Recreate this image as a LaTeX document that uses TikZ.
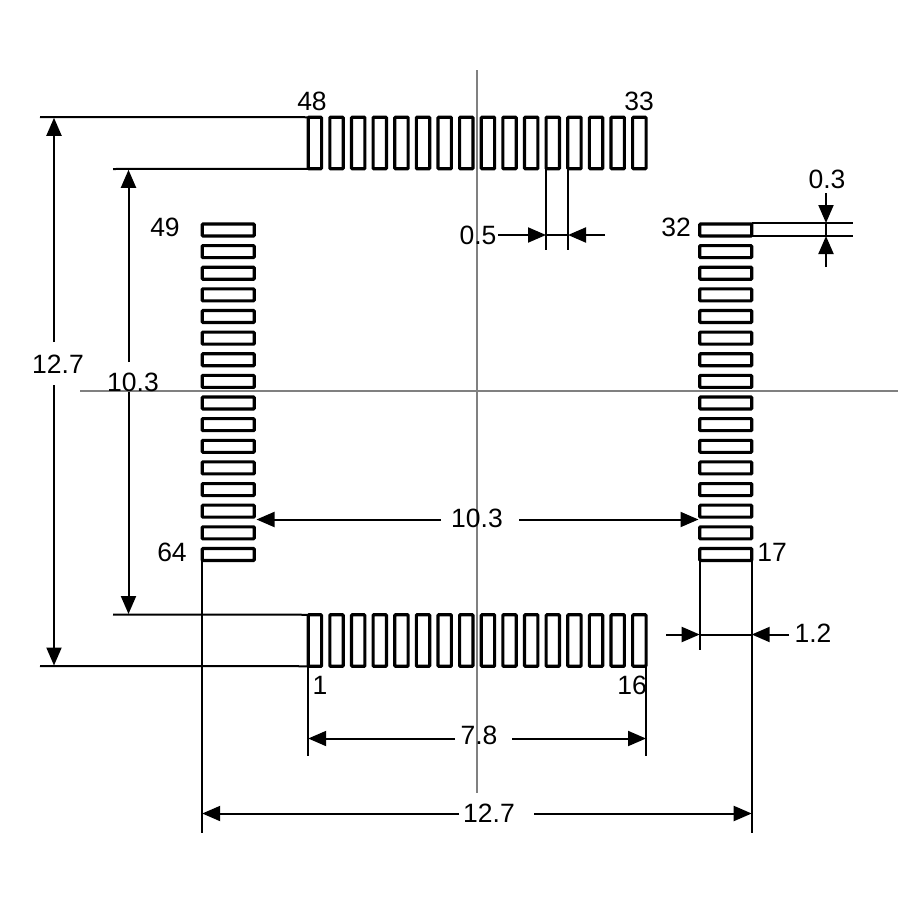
\documentclass[tikz,border=0pt]{standalone}
\usepackage{fontspec}
\setmainfont{Liberation Sans}
\usetikzlibrary{arrows.meta}
\tikzset{
  padh/.style={draw=black,line width=3.1pt,rounded corners=0.8pt,inner sep=0pt,outer sep=0pt,minimum width=52pt,minimum height=12pt,fill=white},
  padv/.style={draw=black,line width=3.1pt,rounded corners=0.8pt,inner sep=0pt,outer sep=0pt,minimum width=13.4pt,minimum height=51.5pt,fill=white},
  axisline/.style={draw=black!50,line width=1.6pt},
  extline/.style={draw=black,line width=2pt},
  dimline/.style={draw=black,line width=2pt},
  dimarrow/.style={dimline,-{Triangle[length=18pt,width=15pt]}},
  lab/.style={inner sep=0pt,outer sep=0pt,text=black,font=\fontsize{26.5}{26.5}\selectfont},
}
\begin{document}
\begin{tikzpicture}[x=1pt,y=-1pt]
\useasboundingbox (0,0) rectangle (900,900);
\fill[white] (0,0) rectangle (900,900);
% axes
\coordinate (axL) at (80,391); \coordinate (axR) at (898,391);
\coordinate (axT) at (477,70); \coordinate (axB) at (477,793);
\draw[axisline] (axL) -- (axR);
\draw[axisline] (axT) -- (axB);
% pads
\foreach \i in {0,...,15} {
  \pgfmathsetmacro{\px}{314.9+21.63*\i}
  \pgfmathsetmacro{\py}{230+21.63*\i}
  \node[padv] (T\i) at (\px,143) {};
  \node[padv] (B\i) at (\px,640.5) {};
  \node[padh] (L\i) at (228.2,\py) {};
  \node[padh] (R\i) at (725.7,\py) {};
}
% labels
\node[lab] (n48) at (312,101) {48};
\node[lab] (n33) at (639,101) {33};
\node[lab] (n49) at (165,227) {49};
\node[lab] (n32) at (676,227) {32};
\node[lab] (n64) at (172,552) {64};
\node[lab] (n17) at (772,552) {17};
\node[lab] (n1) at (320,685) {1};
\node[lab] (n16) at (632,685) {16};
\node[lab] (d127L) at (58,364) {12.7};
\node[lab] (d103L) at (133,382) {10.3};
\node[lab] (d05) at (478,235) {0.5};
\node[lab] (d03) at (827,179) {0.3};
\node[lab] (d103M) at (477,518) {10.3};
\node[lab] (d12) at (813,633) {1.2};
\node[lab] (d78) at (479,735) {7.8};
\node[lab] (d127B) at (489,813) {12.7};
% free ends of extension lines
\coordinate (a) at (40,117);  \coordinate (b) at (40,666);
\coordinate (c) at (113,169); \coordinate (d) at (113,614.5);
\coordinate (e1) at (546,250); \coordinate (e2) at (568,250);
\coordinate (f1) at (853,223); \coordinate (f2) at (853,236);
\coordinate (g1) at (202.2,833); \coordinate (g2) at (751.7,833);
\coordinate (h1) at (308.2,756); \coordinate (h2) at (646,756);
\coordinate (k) at (699.7,650);
% extension lines
\draw[extline] (a) -- (T0.north west);
\draw[extline] (c) -- (T0.south west);
\draw[extline] (d) -- (B0.north west);
\draw[extline] (b) -- (B0.south west);
\draw[extline] (546,169) -- (e1);
\draw[extline] (568,169) -- (e2);
\draw[extline] (R15.north east |- f1) -- (f1);
\draw[extline] (R15.north east |- f2) -- (f2);
\draw[extline] (L15.south west) -- (g1);
\draw[extline] (R15.south east) -- (g2);
\draw[extline] (B0.south west) -- (h1);
\draw[extline] (h2 |- B15.south) -- (h2);
\draw[extline] (R15.south west) -- (k);
% left 12.7
\coordinate (p1) at (54,342); \coordinate (p2) at (54,385);
\draw[dimarrow] (p1) -- (54,117.8);
\draw[dimarrow] (p2) -- (54,665.5);
% left 10.3
\coordinate (q1) at (128.5,362); \coordinate (q2) at (128.5,392);
\draw[dimarrow] (q1) -- (128.5,169.8);
\draw[dimarrow] (q2) -- (128.5,614);
% 0.5
\coordinate (r1) at (498,235); \coordinate (r2) at (605,235);
\draw[dimarrow] (r1) -- (546,235);
\draw[dimarrow] (r2) -- (568,235);
\draw[dimline] (546,235) -- (568,235);
% 0.3
\coordinate (s1) at (826,193); \coordinate (s2) at (826,267);
\draw[dimarrow] (s1) -- (826,223);
\draw[dimarrow] (s2) -- (826,236);
\draw[dimline] (826,223) -- (826,236);
% middle 10.3
\coordinate (u1) at (441,519.5); \coordinate (u2) at (519,519.5);
\draw[dimarrow] (u1) -- (256.5,519.5);
\draw[dimarrow] (u2) -- (698.5,519.5);
% 1.2
\coordinate (v1) at (666,634.5); \coordinate (v2) at (789,634.5);
\draw[dimarrow] (v1) -- (699.7,634.5);
\draw[dimarrow] (v2) -- (751.7,634.5);
\draw[dimline] (699.7,634.5) -- (751.7,634.5);
% 7.8
\coordinate (w1) at (455,738.5); \coordinate (w2) at (512,738.5);
\draw[dimarrow] (w1) -- (308.2,738.5);
\draw[dimarrow] (w2) -- (646,738.5);
% bottom 12.7
\coordinate (y1) at (459,813.5); \coordinate (y2) at (534,813.5);
\draw[dimarrow] (y1) -- (202.2,813.5);
\draw[dimarrow] (y2) -- (751.7,813.5);
\end{tikzpicture}
\end{document}
